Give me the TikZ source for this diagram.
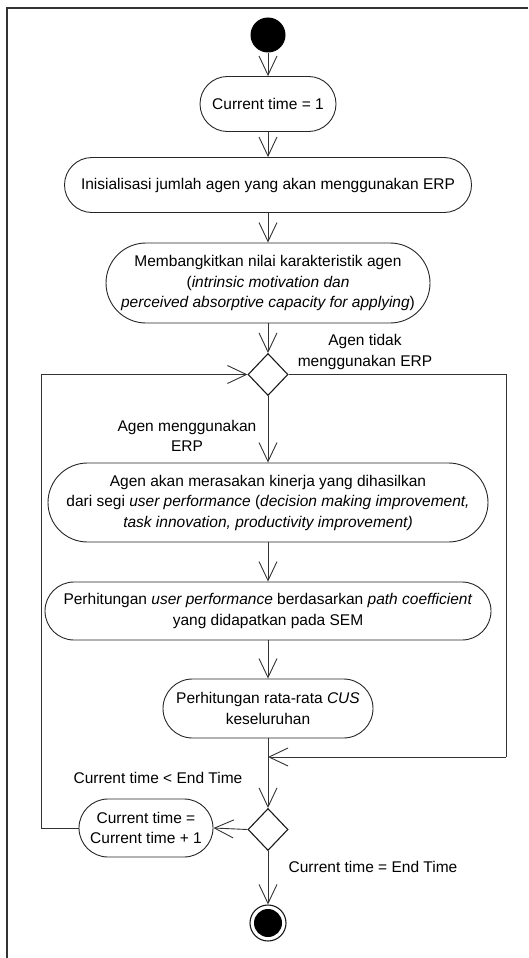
\documentclass[tikz,border=0pt]{standalone}
\usepackage{fontspec}
\setmainfont{Liberation Sans}
\usetikzlibrary{arrows.meta,shapes.geometric}
\begin{document}
\begin{tikzpicture}[x=1pt,y=-1pt,
  every node/.style={font=\fontsize{15.5}{20.5}\selectfont},
  act/.style={draw=black!85, line width=0.9pt, rectangle, align=center, inner sep=0pt},
  dec/.style={draw=black!90, line width=1.1pt, diamond, minimum width=40pt, minimum height=42pt, inner sep=0pt},
  lbl/.style={align=center, inner sep=0pt},
  arr/.style={draw=black!80, line width=0.9pt, -{Straight Barb[length=19pt,width=18pt,line width=0.9pt]}},
  ln/.style={draw=black!80, line width=0.9pt}]
\useasboundingbox (0,0) rectangle (528,958);
\draw[black!80, line width=1.4pt] (528,8) -- (7,8) -- (7,958);

\node[circle, fill=black, minimum size=35pt, inner sep=0pt] (start) at (268,35) {};
\node[act, minimum width=136pt, minimum height=55pt, rounded corners=27.5pt] (n1) at (268,104) {Current time = 1};
\node[act, minimum width=407pt, minimum height=55pt, rounded corners=27.5pt] (n2) at (268,185) {Inisialisasi jumlah agen yang akan menggunakan ERP};
\node[act, minimum width=324pt, minimum height=80pt, rounded corners=40pt] (n3) at (268,283) {Membangkitkan nilai karakteristik agen\\(\textit{intrinsic motivation dan}\\\textit{perceived absorptive capacity for applying})};
\node[dec] (d1) at (268,374.5) {};
\node[act, minimum width=440pt, minimum height=79pt, rounded corners=39.5pt] (n4) at (268,502.5) {Agen akan merasakan kinerja yang dihasilkan\\dari segi \textit{user performance} (\textit{decision making improvement,}\\\textit{task innovation, productivity improvement)}};
\node[act, minimum width=446pt, minimum height=58pt, rounded corners=29pt] (n5) at (268,611) {Perhitungan \textit{user performance} berdasarkan \textit{path coefficient}\\yang didapatkan pada SEM};
\node[act, minimum width=210pt, minimum height=59pt, rounded corners=29.5pt] (n6) at (268,708.5) {Perhitungan rata-rata \textit{CUS}\\keseluruhan};
\node[dec] (d2) at (268,829.5) {};
\node[act, minimum width=134pt, minimum height=58pt, rounded corners=29pt] (n7) at (146,828) {Current time =\\Current time + 1};
\node[circle, draw=black!90, line width=1.1pt, minimum size=36pt, inner sep=0pt] (end) at (268,923) {};
\fill (end.center) circle (14pt);

\coordinate (rtop) at (506,374.5);
\coordinate (rbot) at (506,757);
\coordinate (rj) at (268,757);
\coordinate (ltop) at (41,374.5);
\coordinate (lbot) at (41,828);

\draw[arr] (start) -- (n1);
\draw[arr] (n1) -- (n2);
\draw[arr] (n2) -- (n3);
\draw[arr] (n3) -- (d1);
\draw[arr] (d1) -- (n4);
\draw[arr] (n4) -- (n5);
\draw[arr] (n5) -- (n6);
\draw[arr] (n6) -- (d2);
\draw[ln] (d1.east) -- (rtop) -- (rbot);
\draw[arr] (rbot) -- (rj);
\draw[arr] (d2.west) -- (n7.east);
\draw[ln] (n7.west) -- (lbot) -- (ltop);
\draw[arr] (ltop) -- (d1.west);
\draw[arr] (d2) -- (end);

\node[lbl] (t1) at (365,352) {Agen tidak\\menggunakan ERP};
\node[lbl] (t2) at (187,436) {Agen menggunakan\\ERP};
\node[lbl] (t3) at (158,778) {Current time < End Time};
\node[lbl] (t4) at (373,867) {Current time = End Time};
\end{tikzpicture}
\end{document}
